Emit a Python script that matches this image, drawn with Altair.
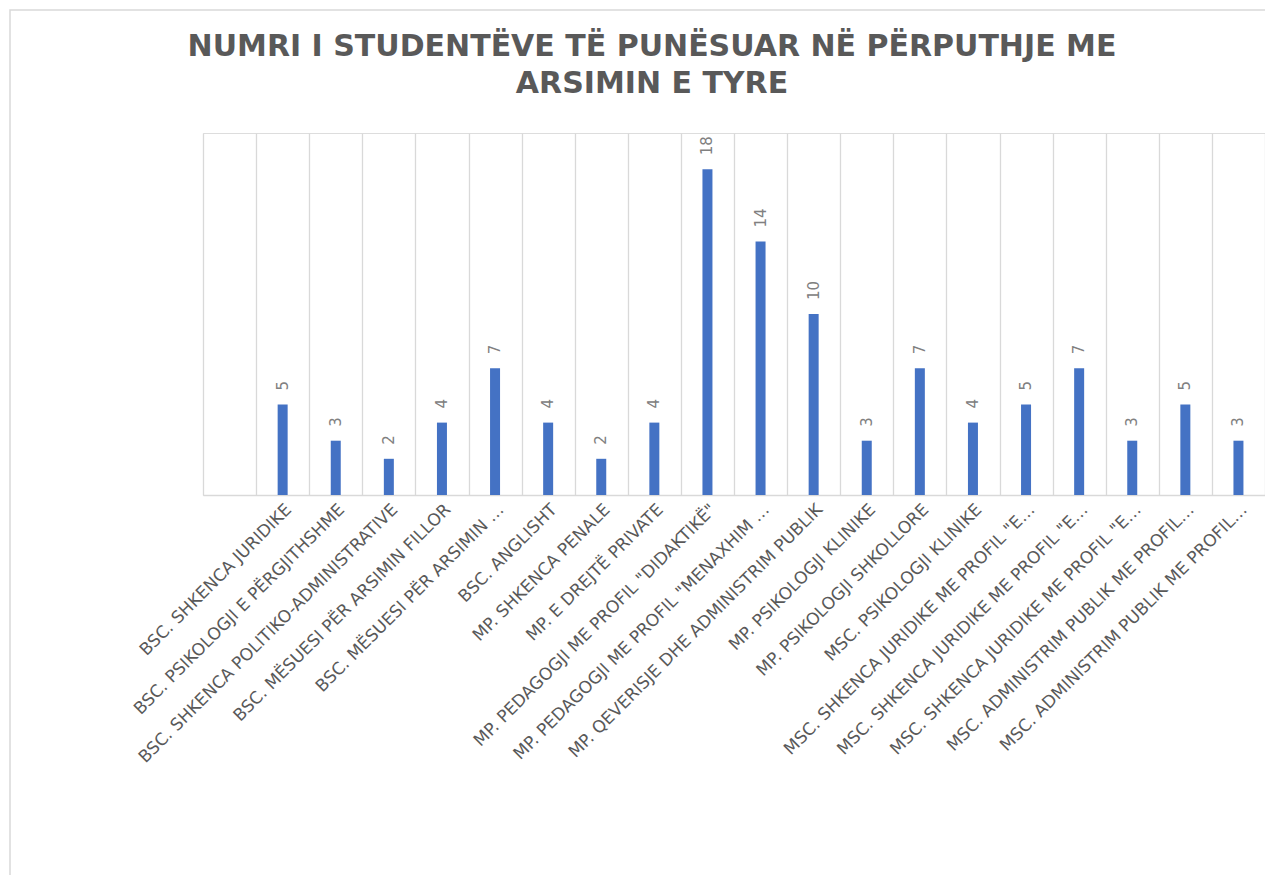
import json
import altair as alt
import pandas as pd

title_lines = ["NUMRI I STUDENTËVE TË PUNËSUAR NË PËRPUTHJE ME", "ARSIMIN E TYRE"]

labels = [
    "",
    "BSC. SHKENCA JURIDIKE",
    "BSC. PSIKOLOGJI E PËRGJITHSHME",
    "BSC. SHKENCA POLITIKO-ADMINISTRATIVE",
    "BSC. MËSUESI PËR ARSIMIN FILLOR",
    "BSC. MËSUESI PËR ARSIMIN …",
    "BSC. ANGLISHT",
    "MP. SHKENCA PENALE",
    "MP. E DREJTË PRIVATE",
    "MP. PEDAGOGJI ME PROFIL \"DIDAKTIKË\"",
    "MP. PEDAGOGJI ME PROFIL \"MENAXHIM …",
    "MP. QEVERISJE DHE ADMINISTRIM PUBLIK",
    "MP. PSIKOLOGJI KLINIKE",
    "MP. PSIKOLOGJI SHKOLLORE",
    "MSC. PSIKOLOGJI KLINIKE",
    "MSC. SHKENCA JURIDIKE ME PROFIL \"E…",
    "MSC. SHKENCA JURIDIKE ME PROFIL \"E…",
    "MSC. SHKENCA JURIDIKE ME PROFIL \"E…",
    "MSC. ADMINISTRIM PUBLIK ME PROFIL…",
    "MSC. ADMINISTRIM PUBLIK ME PROFIL…",
]

values = [None, 5, 3, 2, 4, 7, 4, 2, 4, 18, 14, 10, 3, 7, 4, 5, 7, 3, 5, 3]

idx = list(range(len(labels)))
df = pd.DataFrame({"i": idx, "v": values})
one = pd.DataFrame({"k": [0]})

label_expr = json.dumps(labels, ensure_ascii=False) + "[datum.value]"

x = alt.X(
    "i:O",
    sort=None,
    title=None,
    scale=alt.Scale(domain=idx, paddingInner=0, paddingOuter=0),
    axis=alt.Axis(
        labelExpr=label_expr,
        labelAngle=-45,
        labelFont="DejaVu Sans",
        labelFontSize=17,
        labelColor="#595959",
        labelPadding=6,
        labelOverlap=False,
        labelLimit=600,
        grid=True,
        gridColor="#d9d9d9",
        gridWidth=1.3,
        tickBand="extent",
        ticks=False,
        domainColor="#d9d9d9",
        domainWidth=1.5,
    ),
)
y = alt.Y("v:Q", axis=None, scale=alt.Scale(domain=[0, 20]))

bars = alt.Chart(df).mark_bar(width=10, color="#4472C4").encode(x=x, y=y)
texts = alt.Chart(df).mark_text(
    angle=270, align="left", baseline="middle", dx=14,
    font="DejaVu Sans", fontSize=15, color="#808080"
).encode(x=x, y=y, text=alt.Text("v:Q"))

# light chart-area frame, as in the reference (right/bottom edges fall outside the picture)
frame = alt.Chart(one).mark_rect(
    fill="transparent", stroke="#d9d9d9", strokeWidth=1.5
).encode(
    x=alt.value(-193), x2=alt.value(1090), y=alt.value(-123), y2=alt.value(770)
)

title_style = dict(
    font="DejaVu Sans", fontSize=30, fontWeight="bold", color="#595959",
    align="center", baseline="alphabetic",
)
title1 = alt.Chart(one).mark_text(**title_style).encode(
    x=alt.value(449), y=alt.value(-77), text=alt.value(title_lines[0])
)
title2 = alt.Chart(one).mark_text(**title_style).encode(
    x=alt.value(449), y=alt.value(-40), text=alt.value(title_lines[1])
)

chart = (
    alt.layer(frame, bars, texts, title1, title2)
    .properties(
        width=1062,
        height=362,
        autosize=alt.AutoSizeParams(type="none"),
        padding={"left": 195, "top": 125, "right": 0, "bottom": 380},
    )
    .configure_view(stroke="transparent", strokeWidth=0, fill="white")
    .configure(background="white")
)

chart.save("out.html", embed_options={"renderer": "svg", "actions": False})
